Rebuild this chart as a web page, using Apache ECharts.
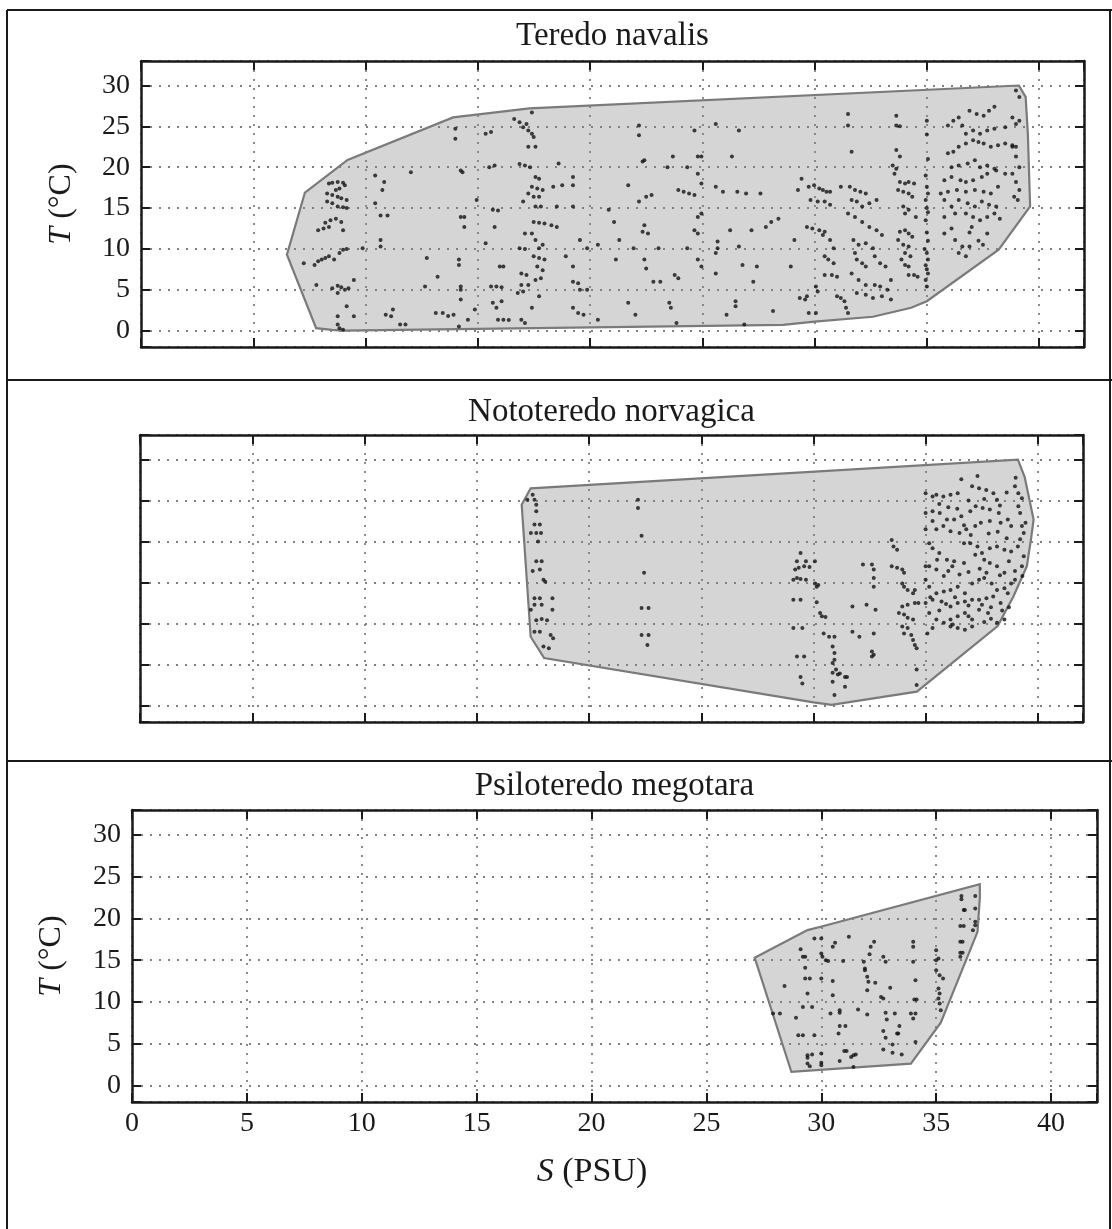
<!DOCTYPE html>
<html>
<head>
<meta charset="utf-8">
<script src="https://cdn.jsdelivr.net/npm/echarts@6/dist/echarts.min.js"></script>
<style>
  html, body { margin: 0; padding: 0; background: #fff; }
  #chart { width: 1112px; height: 1229px; }
</style>
</head>
<body>
<div id="chart"></div>
<script>
// species titles (top to bottom)
const titles = ['Teredo navalis', 'Nototeredo norvagica', 'Psiloteredo megotara'];

// tick values
const sTicks = [0, 5, 10, 15, 20, 25, 30, 35, 40];
const tTicks = [0, 5, 10, 15, 20, 25, 30];

// convex hulls [S, T]
const navalisHull = [[6.5,9.3],[7.3,16.9],[9.2,20.9],[13.9,26.1],[17.3,27.2],[39.1,30.0],[39.4,28.6],[39.5,24.1],
  [39.6,15.2],[38.2,9.9],[35.0,3.6],[34.3,2.8],[32.6,1.7],[30.0,1.1],[28.6,0.7],[9.0,0.0],[8.5,0.1],[7.8,0.3]];
const norvagicaHull = [[17.0,24.5],[17.4,26.5],[39.1,30.0],[39.4,27.9],[39.8,22.7],[39.7,20.6],[39.5,17.0],
  [38.9,13.3],[38.2,9.7],[34.6,1.7],[30.8,0.1],[30.0,0.4],[18.0,5.8],[17.4,8.4]];
const megotaraHull = [[27.1,15.3],[29.4,18.6],[30.1,19.1],[36.9,24.1],[36.9,22.5],[36.8,18.4],[35.2,7.5],[33.9,2.6],[28.7,1.6]];

// observations [S, T]
const navalisPts = [
  [8.37,18.0],[8.52,18.1],[8.76,18.2],[9.0,18.1],[9.08,17.8],[8.84,17.4],[8.68,17.2],
  [8.29,16.8],[8.52,16.6],[8.76,16.4],[8.92,16.2],[9.16,16.0],
  [8.29,15.8],[8.52,15.6],[8.76,15.2],[9.0,15.1],[9.16,15.0],
  [8.21,13.2],[8.44,13.5],[8.68,13.7],[8.92,13.3],
  [7.89,12.3],[8.13,12.5],[8.37,12.7],[9.0,12.3],
  [7.73,8.05],[7.89,8.5],[8.05,8.7],[8.21,8.9],[8.37,9.1],[8.6,8.7],
  [8.84,9.5],[9.0,9.9],[9.16,10.0],[7.25,8.25],
  [7.81,5.6],[8.52,5.2],[8.76,5.5],[8.92,5.3],[9.08,5.0],[9.24,5.2],[9.48,6.2],
  [8.76,4.6],[9.16,3.0],[9.48,1.75],[8.76,1.75],[8.76,0.75],[8.84,0.3],[9.0,0.1],
  [10.43,19.0],[10.83,18.2],[10.75,17.2],[12.02,19.4],[10.43,15.6],[10.67,14.1],[10.98,14.1],[10.67,11.1],
  [10.67,10.3],[11.22,2.6],[10.9,1.95],[11.14,1.75],[11.54,0.75],[11.78,0.75],[9.87,10.1],[12.73,8.9],
  [12.65,5.4],[13.21,6.6],[13.13,2.15],[13.44,2.15],[13.68,1.8],[14.16,0.5],[13.92,1.95],
  [14.0,23.5],[14.0,24.7],[14.24,19.6],[14.32,19.4],[14.24,13.9],[14.4,13.9],[14.4,12.7],[14.16,8.7],
  [14.16,8.05],[14.24,5.4],[14.24,5.0],[14.24,3.8],[14.56,1.35],[14.87,2.6],
  [15.35,24.1],[15.59,24.3],[15.51,20.0],[15.75,20.2],[14.95,16.0],[15.67,14.8],[15.9,14.7],[15.75,12.7],
  [15.35,10.7],[15.98,7.85],[16.14,7.85],[15.59,5.4],[15.83,5.4],[16.06,5.3],[15.67,3.4],[15.83,2.8],
  [16.06,3.6],[15.9,1.35],[16.14,1.35],[16.38,1.3],
  [16.62,25.9],[16.86,25.5],[17.02,24.9],[17.17,25.3],[17.25,24.5],[17.41,24.1],[17.49,23.7],[17.41,26.7],
  [17.25,22.5],[17.57,22.5],[16.86,20.4],[17.1,20.2],[17.33,20.0],[17.57,18.8],[17.73,18.6],[17.41,17.6],
  [17.65,17.4],[17.89,17.2],[17.25,16.8],[17.49,16.4],[17.73,16.4],[17.02,15.8],[17.57,15.2],[17.81,15.2],
  [17.49,13.3],[17.73,13.2],[17.97,13.1],[17.1,11.9],[17.41,11.9],[17.57,11.1],[17.89,10.5],[17.73,10.1],
  [16.86,10.1],[17.1,10.0],[17.49,9.1],[17.73,8.9],[17.97,8.7],[17.65,7.85],[17.89,7.4],[16.94,7.0],
  [17.17,6.8],[17.57,6.2],[17.81,6.4],[16.94,5.6],[17.25,5.6],[16.78,4.6],[17.02,4.8],[17.73,4.2],
  [17.41,2.8],[16.94,1.35],[17.1,0.95],
  [18.6,20.45],[19.24,18.8],[18.36,17.6],[18.76,17.8],[19.24,17.8],[18.52,15.2],[19.24,15.2],[18.28,12.9],
  [18.52,12.7],[19.55,11.1],[19.87,10.1],[18.92,9.1],[19.24,7.85],[19.24,6.0],[19.47,5.8],[19.55,5.0],
  [19.87,5.0],[19.24,2.8],[19.47,2.15],[19.71,1.95],[20.35,1.35],
  [22.18,25.1],[22.18,23.9],[22.34,20.7],[22.42,20.85],[23.69,21.3],[23.45,20.0],[24.33,20.0],[24.8,21.3],
  [24.96,21.3],[24.65,24.5],[21.7,17.8],[22.5,16.4],[22.74,16.6],[23.93,17.2],[24.17,17.0],[24.41,16.8],
  [24.65,16.6],[20.83,14.8],[22.18,15.8],[21.07,13.3],[22.34,12.1],[22.58,11.9],[22.42,12.9],[20.35,10.5],
  [21.3,11.1],[21.94,10.1],[23.05,10.1],[21.15,8.7],[22.42,8.7],[22.5,7.6],[23.77,6.8],[23.93,6.4],
  [22.82,6.0],[23.13,6.0],[21.7,3.4],[22.02,1.95],[23.53,3.4],[23.6,2.8],[23.85,0.95],[24.8,13.9],
  [24.96,14.35],[24.65,12.3],[24.8,11.9],[24.33,10.1],[24.8,8.7],[24.96,7.85],[25.6,17.6],[25.92,17.0],
  [24.96,18.0],[24.8,19.2],
  [25.6,25.3],[26.63,24.5],[26.32,21.3],[26.56,17.0],[26.95,16.8],[27.59,16.8],[26.24,12.3],[27.19,12.3],
  [25.68,10.9],[26.63,10.3],[25.6,9.5],[25.68,10.1],[26.79,8.05],[27.43,7.85],[25.6,7.0],[26.48,3.6],
  [26.48,3.0],[26.08,1.95],[26.87,0.75],[28.15,2.4],[27.27,6.0],[28.39,13.7],[28.07,13.3],[27.83,12.7],
  [28.94,7.85],[29.1,11.1],[29.42,18.6],[29.66,4.2],[29.58,3.8],[29.26,17.2],
  [29.74,17.6],[29.98,17.8],[30.21,17.4],[30.37,17.2],[30.53,17.0],[30.69,17.0],[29.82,16.0],[30.14,15.8],
  [30.45,15.8],[30.69,15.4],[29.66,12.7],[29.9,12.5],[30.21,12.3],[30.45,12.1],[30.37,11.7],[30.69,11.1],
  [30.85,10.1],[30.45,9.1],[30.61,8.7],[30.85,8.25],[30.45,6.8],[30.77,6.8],[31.0,6.6],[30.06,5.4],
  [30.14,4.8],[29.34,4.0],[29.74,2.15],[30.06,2.15],[31.0,4.2],[31.17,4.0],[31.33,3.6],[31.4,2.8],[31.49,2.15],
  [31.49,26.5],[31.49,25.1],[31.65,21.9],[31.17,17.6],[31.57,17.6],[31.8,17.2],[32.04,17.0],[32.28,16.8],
  [31.65,16.0],[31.88,15.8],[32.12,15.2],[32.44,15.6],[32.76,16.0],[31.49,14.35],[31.8,13.9],[32.12,13.3],
  [32.44,12.7],[32.76,12.3],[33.0,11.7],[31.73,11.1],[31.96,10.5],[32.28,10.7],[32.6,10.1],[31.8,9.5],
  [31.88,8.7],[32.12,8.25],[32.28,7.85],[32.68,9.1],[32.92,8.25],[33.16,7.85],[31.65,7.0],[31.96,6.2],
  [32.28,5.6],[32.68,5.6],[32.92,5.4],[33.24,5.0],[31.88,4.6],[32.28,4.4],[32.6,4.0],[33.0,4.2],
  [33.4,3.8],[33.4,6.2],
  [33.64,26.3],[33.64,25.1],[33.8,25.0],[33.64,22.1],[33.8,21.3],[33.48,20.2],[33.64,19.8],[33.56,19.2],
  [33.8,18.2],[34.03,18.0],[34.19,18.2],[34.43,18.0],[33.72,17.2],[33.95,17.0],[34.19,16.8],[34.35,16.4],
  [33.95,15.2],[34.19,14.8],[34.03,14.35],[34.51,13.9],[33.8,12.1],[34.03,12.3],[34.19,11.9],[34.35,11.5],
  [33.72,11.1],[33.95,10.5],[34.19,10.3],[34.03,9.5],[34.27,9.1],[33.87,8.7],[34.03,8.05],[34.19,7.85],
  [34.19,6.8],[34.43,6.8],[34.59,6.6],
  [35.0,25.7],[35.0,24.0],[35.05,21.0],[34.95,19.0],[35.0,17.6],[35.05,16.8],[34.95,16.0],[35.0,15.0],
  [35.05,14.5],[34.95,13.5],[35.0,12.0],[35.05,11.0],[34.9,10.0],[35.0,9.5],[35.05,8.7],[34.95,8.0],
  [35.0,7.5],[35.05,7.0],[34.95,6.2],[35.0,5.4],
  [35.94,25.1],[36.18,25.7],[36.42,26.1],[36.58,25.1],[36.9,26.9],[37.22,26.5],[37.53,26.3],[37.77,26.9],
  [38.01,27.4],[36.74,24.1],[37.06,24.5],[37.37,24.1],[37.69,24.5],[38.01,24.7],[38.49,24.9],
  [35.94,21.7],[36.18,21.9],[36.42,22.5],[36.74,22.9],[37.06,23.3],[37.3,23.1],[37.53,22.9],[37.85,22.5],
  [38.17,22.7],[38.49,22.9],[38.81,22.7],[38.97,22.5],
  [36.1,20.0],[36.42,20.2],[36.82,20.45],[37.14,20.85],[37.37,20.0],[37.69,20.2],[38.01,19.8],
  [35.78,18.4],[36.1,18.8],[36.5,18.4],[36.74,18.2],[37.06,18.4],[37.45,18.8],[37.69,19.2],[38.09,19.6],[38.49,19.2],
  [35.62,16.8],[35.94,17.0],[36.34,17.2],[36.74,17.0],[37.14,17.2],[37.53,17.0],[37.85,16.8],[38.17,17.6],
  [35.78,16.0],[36.1,15.2],[36.42,16.0],[36.82,15.6],[37.14,15.2],[37.45,15.8],[37.77,15.4],[38.09,15.2],
  [35.78,13.9],[36.26,14.35],[36.74,14.35],[37.06,13.9],[37.37,13.5],[37.69,13.9],[38.01,14.35],[38.25,13.7],
  [35.78,11.9],[36.26,11.1],[36.58,10.3],[36.9,10.3],[36.42,9.5],[36.74,9.1],[37.69,11.9],
  [36.1,12.5],[36.9,12.0],[37.3,11.0],[37.5,10.5],[37.0,12.7],
  [38.81,26.1],[38.97,25.3],[39.12,25.7],[38.97,29.4],[39.12,28.6],
  [38.81,22.5],[38.97,21.3],[39.12,20.0],[38.81,19.2],[38.97,18.2],[39.12,17.2],[38.89,16.4],[39.05,16.0]
];

const norvagicaPts = [
  [17.25,25.1],[17.49,25.7],[17.57,25.1],[17.65,24.5],[17.65,23.7],[17.57,22.1],[17.81,22.1],[17.41,21.05],
  [17.65,21.05],[17.86,21.05],[17.73,20.0],[17.65,17.6],[17.89,17.6],[17.81,16.6],[17.49,16.4],[17.97,15.35],
  [18.05,15.1],[17.57,13.1],[17.81,13.1],[18.37,13.1],[17.57,12.3],[17.89,12.3],[17.41,11.7],[18.37,11.7],
  [17.65,10.4],[17.89,10.55],[18.13,10.4],[17.57,9.0],[17.81,9.0],[18.29,8.6],[18.4,8.2],[17.97,7.2],[18.21,7.0],
  [22.18,25.1],[22.18,24.1],[22.34,20.7],[22.45,16.2],[22.34,11.9],[22.65,11.9],[22.34,8.6],[22.65,8.6],[22.6,7.4],
  [29.42,18.6],[29.26,17.6],[29.66,17.6],[30.06,17.6],[29.18,16.6],[29.34,16.8],[29.58,17.0],[29.82,16.9],
  [29.1,15.35],[29.26,15.55],[29.42,15.45],[29.66,15.35],[30.06,14.9],[30.14,14.5],[30.21,14.7],[29.1,12.9],
  [29.42,12.9],[30.14,12.6],[30.29,11.3],[30.37,10.9],[30.53,10.8],[29.1,9.45],[29.5,9.45],[30.45,8.8],
  [30.69,8.4],[30.93,8.4],[30.85,7.2],[29.26,6.0],[29.58,6.0],[30.93,6.4],[30.93,5.6],[30.85,5.2],
  [31.0,4.4],[30.85,4.0],[31.08,3.8],[29.42,3.5],[29.5,2.7],[31.17,3.9],[31.4,3.5],[31.49,3.5],
  [30.85,2.9],[31.4,2.3],[30.93,1.3],
  [32.2,17.2],[32.6,17.2],[32.68,16.6],[32.68,15.55],[32.68,14.5],[31.73,12.1],[32.36,12.3],[32.76,11.7],
  [31.73,9.0],[32.04,8.4],[32.68,8.8],[32.6,6.6],[32.68,6.2],[32.6,6.0],
  [33.48,20.2],[33.56,19.4],[33.72,19.0],[33.48,17.0],[33.72,16.8],[33.95,16.6],[34.03,16.2],[33.95,14.9],
  [34.03,14.5],[34.19,14.1],[34.51,14.1],[34.43,13.7],[33.95,12.1],[34.19,12.3],[34.51,12.5],[34.67,12.5],
  [33.8,11.3],[34.03,11.1],[34.19,10.7],[34.43,10.5],[33.95,9.65],[34.19,9.45],[34.03,8.8],[34.35,8.6],
  [34.43,8.0],[34.51,7.4],[34.59,7.0],[34.59,4.4],[34.59,2.5],
  [34.99,25.9],[35.3,25.5],[35.47,25.7],[35.78,25.5],[36.1,25.7],[36.42,25.9],[36.58,27.6],[37.3,28.0],
  [37.06,26.75],[37.37,26.5],[37.69,26.3],[38.01,25.9],[38.17,25.1],[38.97,26.75],[39.12,25.9],[39.28,25.3],
  [34.99,23.5],[35.3,23.7],[35.62,23.5],[35.94,22.7],[36.26,22.7],[36.58,23.1],[36.98,23.7],[37.22,24.3],
  [37.53,24.1],[37.85,23.9],[38.25,23.5],[38.65,22.7],[39.12,24.3],[39.2,23.5],[39.44,22.3],
  [34.99,21.5],[35.47,21.5],[35.78,21.9],[36.1,21.25],[36.5,21.05],[36.8,21.5],[37.2,21.9],[37.45,22.3],
  [37.85,22.5],[38.33,22.3],[38.8,21.9],[39.28,21.9],[39.36,21.05],
  [35.15,19.8],[35.3,19.2],[35.6,18.6],[35.94,17.8],[36.26,17.6],[36.7,19.8],[36.98,19.8],[37.3,19.4],
  [37.5,18.6],[37.85,19.2],[38.17,19.4],[38.5,19.0],[38.8,18.8],[39.1,19.4],[39.36,18.2],
  [34.99,17.0],[35.15,17.0],[35.47,16.6],[35.8,15.8],[36.18,17.0],[36.7,17.4],[37.2,18.4],[37.6,17.8],
  [37.85,17.4],[38.17,17.0],[38.5,16.2],[38.97,16.4],[39.28,17.0],
  [34.99,15.35],[35.15,14.5],[35.47,13.7],[35.8,13.9],[36.1,14.1],[36.42,14.5],[36.74,13.7],[37.06,14.9],
  [37.37,15.35],[37.6,15.55],[37.93,14.9],[38.17,14.1],[38.5,14.3],[38.8,14.9],[38.97,15.35],
  [34.99,12.5],[35.3,12.9],[35.7,12.7],[36.1,12.1],[36.42,12.5],[36.74,12.7],[37.06,12.9],[37.37,12.9],
  [37.7,13.1],[38.0,13.3],[38.33,12.5],[38.65,13.7],
  [35.15,11.3],[35.47,10.5],[35.8,10.1],[36.1,10.5],[36.42,10.9],[36.74,11.3],[37.06,10.5],[37.37,11.7],
  [37.77,11.3],[38.17,10.1],[38.5,10.5],
  [35.07,8.8],[35.3,9.45],[36.1,9.65],[36.42,9.45],[36.74,9.25],[37.06,9.65],
  [35.6,24.6],[36.0,24.2],[36.4,24.0],[36.9,25.0],[37.6,25.2],[38.3,24.4],[38.6,26.0],[39.0,27.8],
  [35.3,22.5],[36.7,22.0],[37.0,20.8],[37.8,21.0],[38.2,21.2],[38.6,20.4],[39.2,20.3],
  [35.5,17.8],[36.0,16.4],[36.5,16.0],[36.9,16.3],[37.4,16.7],[37.7,16.2],[38.3,15.9],[38.7,17.6],[39.3,15.8],
  [35.2,13.2],[35.9,12.4],[36.3,13.2],[36.9,12.2],[37.5,12.3],[37.9,12.0],[38.4,11.6],[38.7,12.0],
  [35.6,11.6],[36.2,9.9],[36.9,10.9],[37.6,10.2],[37.9,10.6]
];

const megotaraPts = [
  [36.1,22.7],[36.1,22.3],[36.7,22.7],[36.2,21.0],[36.25,21.0],[36.7,21.2],[36.05,19.1],[36.2,19.1],
  [36.7,19.6],[36.7,19.2],[36.6,18.6],[36.05,17.2],[36.15,17.2],[36.05,15.9],[36.15,15.9],[36.05,15.4],
  [29.7,17.6],[30.0,17.6],[30.6,17.1],[30.5,16.6],[31.2,17.8],[32.3,17.2],[32.15,16.6],[32.1,15.7],
  [34.0,17.2],[34.0,16.6],[29.1,16.3],[29.2,15.4],[29.3,15.4],[29.3,14.1],[30.0,15.8],[30.05,15.4],
  [30.2,15.0],[30.3,14.9],[30.95,14.9],[32.7,15.4],[32.8,14.8],[34.0,14.8],[35.0,16.2],[35.1,15.2],
  [35.0,15.0],[31.85,14.8],[31.9,13.8],[31.9,14.0],
  [28.4,11.9],[29.3,12.8],[29.5,12.8],[30.0,12.8],[30.5,12.5],[32.0,13.0],[32.05,12.4],[32.35,12.3],
  [32.0,11.4],[34.1,12.6],[35.0,13.8],[35.15,13.2],[35.3,12.8],[35.1,11.6],[35.15,11.0],[33.0,11.7],
  [29.4,11.0],[30.5,10.8],[32.6,10.6],[32.7,10.4],[34.05,10.3],[34.15,10.3],[35.1,10.4],[35.15,9.8],[35.2,9.0],
  [29.2,9.4],[29.6,9.4],[27.9,8.6],[28.2,8.6],[30.8,9.0],[30.8,8.7],[30.4,8.6],[31.6,9.1],
  [32.0,8.5],[32.8,8.7],[33.2,8.6],[32.85,7.9],[33.9,8.6],[34.1,8.6],[34.0,8.0],[28.9,8.1],
  [30.8,7.1],[31.05,7.1],[30.75,6.2],[33.4,7.1],[29.0,6.0],[29.2,6.0],[29.7,6.0],[32.7,6.5],
  [32.8,5.7],[33.3,6.2],[33.35,6.2],[33.1,4.9],[34.1,5.2],[32.7,4.3],[33.1,3.9],[33.5,3.7],
  [29.4,3.6],[29.6,3.7],[29.4,3.3],[30.0,3.8],[31.0,4.1],[31.1,4.1],[31.4,3.6],[31.5,3.7],
  [31.3,3.4],[30.8,2.9],[30.0,2.7],[30.0,2.4],[29.4,2.6],[29.5,2.3],[31.4,2.2]
];

const hulls = [navalisHull, norvagicaHull, megotaraHull];
const points = [navalisPts, norvagicaPts, megotaraPts];

const serif = 'Liberation Serif';
const ink = '#1a1a1a';

const grids = [
  {left: 141, top: 61, width: 943, height: 286},
  {left: 140, top: 435, width: 943, height: 287},
  {left: 132, top: 810, width: 965, height: 292}
];
const showY = [true, false, true];
const showX = [false, false, true];

const tick = {inside: true, length: 9, lineStyle: {color: ink, width: 2}};
const frame = {show: true, onZero: false, lineStyle: {color: ink, width: 2.5}};
const dots = {show: true, lineStyle: {color: '#808080', width: 1.8, type: [2, 7]}};

const xAxis = [], yAxis = [], series = [];
grids.forEach((g, i) => {
  xAxis.push({
    gridIndex: i, type: 'value', position: 'bottom', min: 0, max: 42, interval: 5, z: 2,
    axisLine: frame, axisTick: tick, splitLine: dots,
    axisLabel: {
      show: showX[i], margin: 8, fontFamily: serif, fontSize: 28, color: ink,
      formatter: v => sTicks.includes(v) ? String(v) : ''
    }
  });
  xAxis.push({
    gridIndex: i, type: 'value', position: 'top', min: 0, max: 42, interval: 5, z: 2,
    axisLine: frame, axisTick: tick, splitLine: {show: false}, axisLabel: {show: false}
  });
  yAxis.push({
    gridIndex: i, type: 'value', position: 'left', min: -2, max: 33, splitNumber: 7, z: 2,
    axisLine: frame, axisTick: tick, splitLine: dots,
    axisLabel: {
      show: showY[i], margin: 11, fontFamily: serif, fontSize: 28, color: ink,
      formatter: v => tTicks.includes(v) ? String(v) : ''
    }
  });
  yAxis.push({
    gridIndex: i, type: 'value', position: 'right', min: -2, max: 33, splitNumber: 7, z: 2,
    axisLine: frame, axisTick: tick, splitLine: {show: false}, axisLabel: {show: false}
  });

  const hull = hulls[i];
  series.push({
    type: 'custom', xAxisIndex: 2 * i, yAxisIndex: 2 * i, z: 1, silent: true,
    data: [[hull[0][0], hull[0][1]]],
    renderItem: (params, api) => ({
      type: 'polygon',
      shape: {points: hull.map(p => api.coord(p))},
      style: {fill: '#d5d5d5', stroke: '#7a7a7a', lineWidth: 2.2}
    })
  });
  series.push({
    type: 'scatter', xAxisIndex: 2 * i, yAxisIndex: 2 * i, z: 4, silent: true,
    symbolSize: 4, itemStyle: {color: '#111'},
    data: points[i]
  });
});

const graphic = [
  {type: 'line', shape: {x1: 7, y1: 10, x2: 1112, y2: 10}, style: {stroke: ink, lineWidth: 2}},
  {type: 'line', shape: {x1: 7, y1: 10, x2: 7, y2: 1229}, style: {stroke: ink, lineWidth: 2}},
  {type: 'line', shape: {x1: 1110, y1: 10, x2: 1110, y2: 1229}, style: {stroke: ink, lineWidth: 2}},
  {type: 'line', shape: {x1: 7, y1: 380, x2: 1112, y2: 380}, style: {stroke: ink, lineWidth: 2}},
  {type: 'line', shape: {x1: 7, y1: 761, x2: 1112, y2: 761}, style: {stroke: ink, lineWidth: 2}}
];
const titleY = [36, 412, 786];
titles.forEach((t, i) => {
  graphic.push({
    type: 'text', x: grids[i].left + grids[i].width / 2, y: titleY[i],
    style: {text: t, font: '33px "' + serif + '"', fill: ink, align: 'center', verticalAlign: 'middle'}
  });
});
const nameRich = {i: {fontStyle: 'italic', fontFamily: serif, fontSize: 32, fill: ink}};
[[62, 204], [52, 956]].forEach(p => {
  graphic.push({
    type: 'text', x: p[0], y: p[1], rotation: Math.PI / 2,
    style: {text: '{i|T} (°C)', rich: nameRich, font: '32px "' + serif + '"', fontFamily: serif, fontSize: 32,
      fill: ink, align: 'center', verticalAlign: 'middle'}
  });
});
graphic.push({
  type: 'text', x: 592, y: 1172,
  style: {text: '{i|S} (PSU)', rich: {i: {fontStyle: 'italic', fontFamily: serif, fontSize: 34, fill: ink}},
    font: '34px "' + serif + '"', fontFamily: serif, fontSize: 34, fill: ink, align: 'center', verticalAlign: 'middle'}
});

const chart = echarts.init(document.getElementById('chart'), null, {renderer: 'canvas'});
chart.setOption({
  animation: false,
  backgroundColor: '#fff',
  grid: grids,
  xAxis: xAxis,
  yAxis: yAxis,
  series: series,
  graphic: graphic
});
</script>
</body>
</html>
